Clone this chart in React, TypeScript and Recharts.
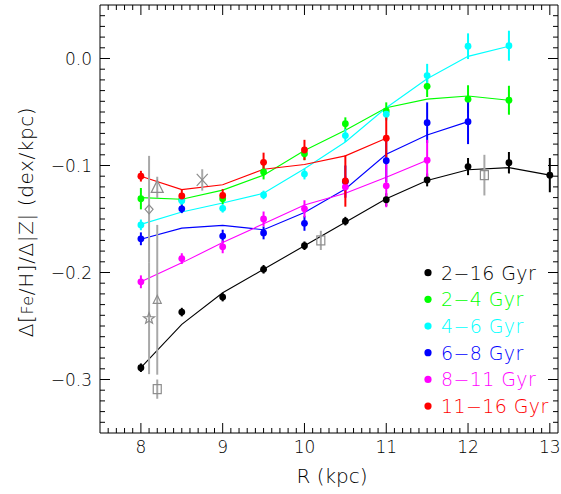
import React from 'react';
import { ComposedChart, Line, Scatter, ErrorBar, XAxis, YAxis } from 'recharts';

// galactocentric radius bins (kpc)
const radii = [8, 8.5, 9, 9.5, 10, 10.5, 11, 11.5, 12, 12.5, 13];

const ageLabels = ['2−16 Gyr', '2−4 Gyr', '4−6 Gyr', '6−8 Gyr', '8−11 Gyr', '11−16 Gyr'];
const ageColors = ['#000000', '#00ff00', '#00ffff', '#0000ff', '#ff00ff', '#ff0000'];

// vertical metallicity gradients, per age bin
const grad2to16 = [-0.289, -0.237, -0.223, -0.197, -0.175, -0.152, -0.132, -0.1135, -0.101, -0.0974, -0.109];
const err2to16 = [0.004, 0.004, 0.004, 0.004, 0.004, 0.004, 0.006, 0.006, 0.008, 0.01, 0.016];
const fit2to16 = [-0.289, -0.2485, -0.219, -0.197, -0.175, -0.153, -0.131, -0.114, -0.104, -0.102, -0.109];

const grad2to4 = [-0.131, -0.132, -0.131, -0.106, -0.089, -0.061, -0.049, -0.026, -0.038, -0.039];
const err2to4 = [0.01, 0.005, 0.005, 0.007, 0.006, 0.006, 0.008, 0.01, 0.013, 0.0135];
const fit2to4 = [-0.13, -0.1315, -0.123, -0.109, -0.086, -0.067, -0.046, -0.038, -0.035, -0.039];

const grad4to6 = [-0.1555, -0.133, -0.14, -0.1275, -0.108, -0.072, -0.052, -0.016, 0.0115, 0.012];
const err4to6 = [0.005, 0.004, 0.004, 0.004, 0.005, 0.006, 0.006, 0.011, 0.012, 0.014];
const fit4to6 = [-0.155, -0.1435, -0.135, -0.126, -0.103, -0.078, -0.046, -0.019, 0.002, 0.0115];

const grad6to8 = [-0.1685, -0.1405, -0.166, -0.163, -0.154, -0.115, -0.0955, -0.06, -0.059];
const err6to8 = [0.006, 0.004, 0.006, 0.006, 0.007, 0.015, 0.02, 0.019, 0.021];
const fit6to8 = [-0.169, -0.1585, -0.156, -0.16, -0.144, -0.122, -0.0895, -0.0715, -0.059];

const grad8to11 = [-0.2087, -0.187, -0.176, -0.15, -0.1405, -0.12, -0.119, -0.095];
const err8to11 = [0.006, 0.005, 0.006, 0.007, 0.008, 0.01, 0.02, 0.019];
const fit8to11 = [-0.2087, -0.191, -0.172, -0.1545, -0.137, -0.126, -0.111, -0.095];

const grad11to16 = [-0.11, -0.1285, -0.128, -0.097, -0.0855, -0.1145, -0.0745];
const err11to16 = [0.005, 0.006, 0.006, 0.009, 0.0095, 0.024, 0.02];
const fit11to16 = [-0.11, -0.1225, -0.118, -0.1035, -0.099, -0.091, -0.0745];

// literature values (gray symbols)
const refR = [8.1, 8.1, 8.2, 8.2, 8.2, 8.75, 10.2, 12.2];
const refGrad = [-0.141, -0.243, -0.1205, -0.2255, -0.309, -0.1135, -0.17, -0.109];
const refErr = [0.05, 0.052, 0.01, 0.07, 0.009, 0.01, 0.009, 0.019];
const refMark = ['diamond', 'star', 'triangle', 'triangle-s', 'square', 'cross', 'square', 'square'];

const xMajor = [8, 9, 10, 11, 12, 13];
const yMajor = [-0.3, -0.2, -0.1, 0.0];

const xTicks: number[] = [];
for (let i = 76; i <= 130; i++) xTicks.push(i / 10);
const yTicks: number[] = [];
for (let i = -34; i <= 4; i++) yTicks.push(i / 100);

const pack = (vals: number[], errs?: number[]) =>
  vals.map((y, i) => ({ x: radii[i], y, err: errs ? errs[i] : 0 }));

const series = [
  { vals: grad2to16, errs: err2to16, fit: fit2to16 },
  { vals: grad2to4, errs: err2to4, fit: fit2to4 },
  { vals: grad4to6, errs: err4to6, fit: fit4to6 },
  { vals: grad6to8, errs: err6to8, fit: fit6to8 },
  { vals: grad8to11, errs: err8to11, fit: fit8to11 },
  { vals: grad11to16, errs: err11to16, fit: fit11to16 },
].map((s, i) => ({
  label: ageLabels[i],
  color: ageColors[i],
  points: pack(s.vals, s.errs),
  fit: pack(s.fit),
}));

const refData = refR.map((x, i) => ({ x, y: refGrad[i], err: refErr[i], mark: refMark[i] }));

const FONT = 'DejaVu Sans, sans-serif';
const WEIGHT = 300;
const GRAY = '#8c8c8c';

const isMajorX = (v: number) => xMajor.some((m) => Math.abs(m - v) < 1e-6);
const isMajorY = (v: number) => yMajor.some((m) => Math.abs(m - v) < 1e-6);
const fmtY = (v: number) => (Math.abs(v) < 1e-9 ? '0.0' : '−' + Math.abs(v).toFixed(1));

const xTick = (dir: number, labels: boolean) => (p: any) => {
  const major = isMajorX(p.payload.value);
  const len = major ? 10 : 5;
  return (
    <g>
      <line x1={p.x} x2={p.x} y1={p.y} y2={p.y + dir * len} stroke="#000" strokeWidth={1} />
      {labels && major && (
        <text x={p.x} y={p.y + 20} textAnchor="middle" fontSize={17} fontFamily={FONT} fontWeight={WEIGHT} fill="#000">
          {p.payload.value}
        </text>
      )}
    </g>
  );
};

const yTick = (dir: number, labels: boolean) => (p: any) => {
  const major = isMajorY(p.payload.value);
  const len = major ? 10 : 5;
  return (
    <g>
      <line x1={p.x} x2={p.x + dir * len} y1={p.y} y2={p.y} stroke="#000" strokeWidth={1} />
      {labels && major && (
        <text x={p.x - 8} y={p.y + 6} textAnchor="end" fontSize={17} fontFamily={FONT} fontWeight={WEIGHT} fill="#000">
          {fmtY(p.payload.value)}
        </text>
      )}
    </g>
  );
};

const starPath = (cx: number, cy: number, ro: number, ri: number) => {
  let d = '';
  for (let k = 0; k < 10; k++) {
    const r = k % 2 === 0 ? ro : ri;
    const a = -Math.PI / 2 + (k * Math.PI) / 5;
    d += (k === 0 ? 'M' : 'L') + (cx + r * Math.cos(a)).toFixed(2) + ',' + (cy + r * Math.sin(a)).toFixed(2);
  }
  return d + 'Z';
};

const RefShape = (p: any) => {
  const { cx, cy } = p;
  const m = p.payload?.mark;
  const st = { fill: 'none', stroke: GRAY, strokeWidth: 1.2 };
  if (m === 'diamond') return <path d={`M${cx},${cy - 4.5}L${cx + 4},${cy}L${cx},${cy + 4.5}L${cx - 4},${cy}Z`} {...st} />;
  if (m === 'star') return <path d={starPath(cx, cy, 5.8, 2.4)} {...st} />;
  if (m === 'triangle') return <path d={`M${cx},${cy - 7}L${cx + 6},${cy + 5}L${cx - 6},${cy + 5}Z`} {...st} />;
  if (m === 'triangle-s') return <path d={`M${cx},${cy - 4.5}L${cx + 4},${cy + 3.5}L${cx - 4},${cy + 3.5}Z`} {...st} />;
  if (m === 'square') return <rect x={cx - 4} y={cy - 4.5} width={8} height={9} {...st} />;
  if (m === 'cross')
    return (
      <g stroke={GRAY} strokeWidth={1.2}>
        <line x1={cx - 5.5} y1={cy - 6} x2={cx + 5.5} y2={cy + 6} />
        <line x1={cx - 5.5} y1={cy + 6} x2={cx + 5.5} y2={cy - 6} />
      </g>
    );
  return null;
};

export default function App() {
  return (
    <div style={{ position: 'absolute', left: 0, top: 0, width: 561, height: 494, background: '#fff' }}>
      <ComposedChart width={561} height={494} margin={{ top: 1, right: 1, bottom: 31, left: 60 }}>
        <XAxis
          xAxisId="bottom"
          type="number"
          dataKey="x"
          domain={[7.5, 13.1]}
          allowDataOverflow
          ticks={xTicks}
          interval={0}
          height={30}
          tickSize={0}
          tickMargin={0}
          tickLine={false}
          axisLine={{ stroke: '#000' }}
          tick={xTick(-1, true)}
        />
        <XAxis
          xAxisId="top"
          orientation="top"
          type="number"
          dataKey="x"
          domain={[7.5, 13.1]}
          allowDataOverflow
          ticks={xTicks}
          interval={0}
          height={4}
          tickSize={0}
          tickMargin={0}
          tickLine={false}
          axisLine={{ stroke: '#000' }}
          tick={xTick(1, false)}
        />
        <YAxis
          yAxisId="left"
          type="number"
          dataKey="y"
          domain={[-0.35, 0.05]}
          allowDataOverflow
          ticks={yTicks}
          interval={0}
          width={40}
          tickSize={0}
          tickMargin={0}
          tickLine={false}
          axisLine={{ stroke: '#000' }}
          tick={yTick(1, true)}
        />
        <YAxis
          yAxisId="right"
          orientation="right"
          type="number"
          dataKey="y"
          domain={[-0.35, 0.05]}
          allowDataOverflow
          ticks={yTicks}
          interval={0}
          width={2}
          tickSize={0}
          tickMargin={0}
          tickLine={false}
          axisLine={{ stroke: '#000' }}
          tick={yTick(-1, false)}
        />

        {series.map((s) => (
          <Line
            key={'fit' + s.label}
            xAxisId="bottom"
            yAxisId="left"
            data={s.fit}
            dataKey="y"
            type="linear"
            stroke={s.color}
            strokeWidth={1.1}
            dot={false}
            activeDot={false}
            isAnimationActive={false}
          />
        ))}

        <Scatter
          xAxisId="top"
          yAxisId="right"
          data={refData}
          dataKey="y"
          shape={<RefShape />}
          isAnimationActive={false}
        >
          <ErrorBar dataKey="err" direction="y" width={0} stroke="#a8a8a8" strokeWidth={2} />
        </Scatter>

        {series.map((s) => (
          <Scatter
            key={'pts' + s.label}
            xAxisId="bottom"
            yAxisId="left"
            data={s.points}
            dataKey="y"
            isAnimationActive={false}
            shape={(p: any) => <circle cx={p.cx} cy={p.cy} r={3.4} fill={s.color} />}
          >
            <ErrorBar dataKey="err" direction="y" width={0} stroke={s.color} strokeWidth={2} />
          </Scatter>
        ))}
      </ComposedChart>

      <svg width={561} height={494} style={{ position: 'absolute', left: 0, top: 0, pointerEvents: 'none' }}>
        <text
          x={33}
          y={222}
          transform="rotate(-90 33 222)"
          textAnchor="middle"
          fontSize={20}
          fontFamily={FONT}
          fontWeight={WEIGHT}
          letterSpacing={0.6}
          fill="#000"
        >
          Δ[<tspan fontSize={16}>Fe</tspan>/H]/Δ|Z| (dex/kpc)
        </text>
        <text x={332} y={483} textAnchor="middle" fontSize={20} fontFamily={FONT} fontWeight={WEIGHT} fill="#000">
          R (kpc)
        </text>
        {series.map((s, i) => {
          const y = 272.7 + i * 26.67;
          return (
            <g key={'leg' + s.label}>
              <circle cx={428} cy={y} r={3.6} fill={s.color} />
              <text x={441} y={y + 7} fontSize={19} fontFamily={FONT} fontWeight={WEIGHT} fill={s.color} letterSpacing={0.4}>
                {s.label.replace(' ', '  ')}
              </text>
            </g>
          );
        })}
      </svg>
    </div>
  );
}
